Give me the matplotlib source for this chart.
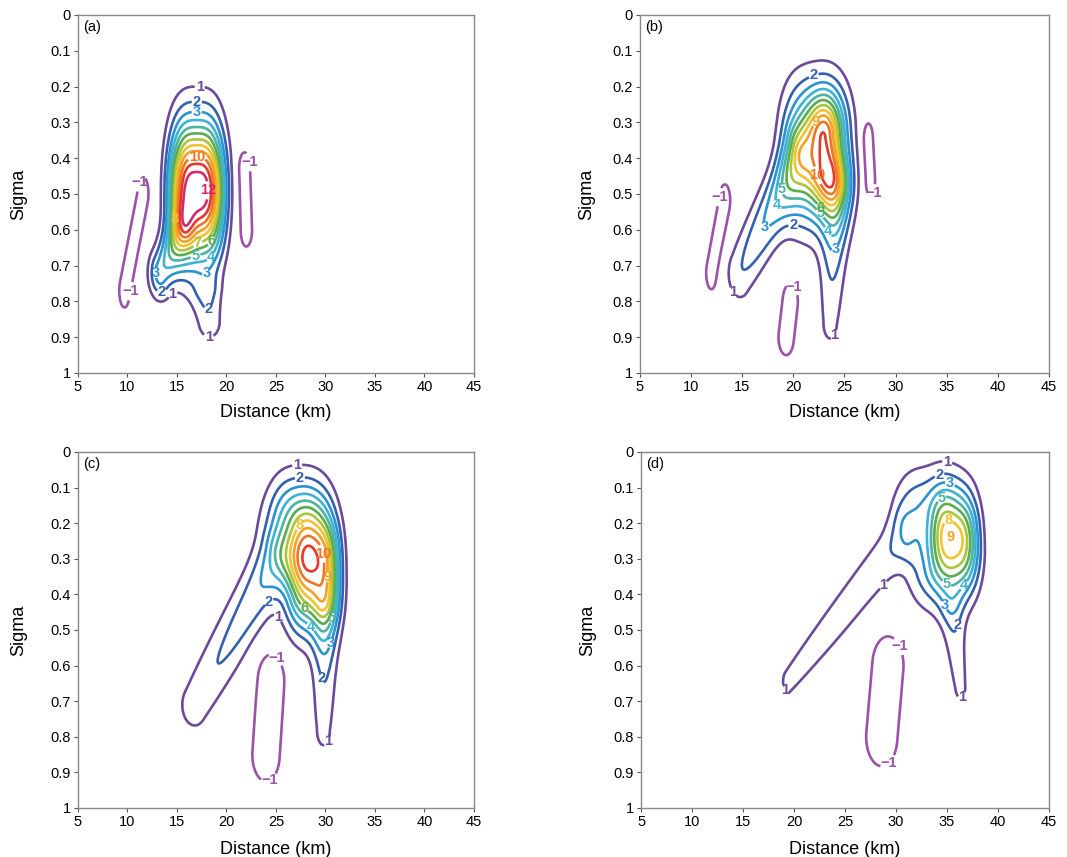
import numpy as np
import matplotlib
matplotlib.use("Agg")
import matplotlib.pyplot as plt

plt.rcParams['font.family'] = ['Liberation Sans', 'DejaVu Sans']

# contour levels and the colour of each level
levels = [-1, 1, 2, 3, 4, 5, 6, 7, 8, 9, 10, 11, 12]
level_colors = ['#9b52a8', '#6b4a9c', '#3560ad', '#2b93d2', '#3fb2d6', '#4cb4a2',
                '#5aac4c', '#a9c63c', '#f2c230', '#f4a126', '#ef7623', '#e6392b', '#d42a6c']

# each field is a sum of segments:
# (x1, s1, x2, s2, width_km, width_sigma, amp_start, amp_end, x_exponent)
field_a = [
    (17.0, 0.49, 17.0, 0.49, 2.1, 0.128, 13.0, 13.0, 3),
    (15.5, 0.60, 13.3, 0.72, 0.8, 0.05, 3.5, 3.5, 2),
    (18.0, 0.78, 18.3, 0.86, 1.0, 0.04, 1.7, 1.5, 2),
    (11.6, 0.50, 9.7, 0.77, 0.45, 0.04, -2.0, -2.0, 2),
    (21.8, 0.43, 22.0, 0.60, 0.5, 0.04, -2.0, -2.0, 2),
]
field_b = [
    (23.0, 0.34, 23.2, 0.42, 1.2, 0.08, 6.5, 6.5, 2),
    (22.2, 0.33, 22.4, 0.45, 2.6, 0.11, 4.5, 4.5, 3),
    (20.5, 0.40, 14.8, 0.72, 1.0, 0.06, 4.5, 1.9, 2),
    (24.2, 0.50, 23.6, 0.86, 0.9, 0.06, 3.0, 1.3, 2),
    (13.3, 0.52, 12.0, 0.72, 0.45, 0.04, -2.0, -2.0, 2),
    (19.7, 0.80, 19.3, 0.90, 0.6, 0.04, -2.2, -2.2, 2),
    (27.3, 0.35, 27.5, 0.46, 0.4, 0.04, -2.2, -2.2, 2),
]
field_c = [
    (29.0, 0.30, 29.0, 0.30, 1.9, 0.10, 7.2, 7.2, 3),
    (27.5, 0.20, 28.5, 0.40, 2.2, 0.09, 3.5, 3.5, 3),
    (25.5, 0.18, 26.5, 0.28, 2.0, 0.08, 1.3, 1.3, 2),
    (25.0, 0.30, 16.8, 0.71, 1.3, 0.06, 3.0, 1.6, 2),
    (30.0, 0.45, 29.8, 0.78, 0.9, 0.06, 2.8, 1.3, 2),
    (24.5, 0.64, 24.0, 0.85, 1.1, 0.06, -2.2, -2.2, 2),
]
field_d = [
    (35.8, 0.24, 35.8, 0.24, 1.8, 0.09, 6.3, 6.3, 3),
    (33.3, 0.17, 34.5, 0.32, 2.6, 0.085, 3.0, 3.0, 3),
    (30.5, 0.24, 19.4, 0.645, 0.9, 0.06, 1.8, 1.15, 2),
    (35.5, 0.45, 36.3, 0.66, 0.8, 0.05, 1.8, 1.2, 2),
    (29.2, 0.60, 28.6, 0.80, 1.3, 0.07, -2.0, -2.0, 2),
]
fields = [field_a, field_b, field_c, field_d]
panel_labels = ['(a)', '(b)', '(c)', '(d)']

# where the contour labels sit: level -> points (km, sigma)
labels_a = {1: [(17.3, 0.2), (15, 0.8), (18, 0.93)], 2: [(17, 0.255), (13.5, 0.78), (18.5, 0.84)],
            3: [(17, 0.29), (13.5, 0.72), (19, 0.75)], 4: [(19, 0.69)], 5: [(16.6, 0.65)],
            6: [(17.9, 0.62)], 7: [(16.4, 0.6)], 8: [(14.8, 0.57)], 10: [(17, 0.4)], 12: [(17.3, 0.49)],
            -1: [(11.5, 0.47), (10, 0.77), (22.5, 0.41)]}
labels_b = {1: [(13.8, 0.78), (24.5, 0.9)], 2: [(22, 0.17), (20, 0.57)],
            3: [(15.5, 0.64), (24.5, 0.66)], 4: [(16.7, 0.57), (23.6, 0.6)],
            5: [(18, 0.49), (22.4, 0.56)], 6: [(23.4, 0.52)], 9: [(22.3, 0.3)], 10: [(23.2, 0.44)],
            -1: [(13, 0.51), (20, 0.76), (28, 0.5)]}
labels_c = {1: [(27.2, 0.06), (25, 0.47), (30, 0.81)], 2: [(27.5, 0.11), (24, 0.41), (29, 0.64)],
            3: [(29.9, 0.53)], 4: [(28.6, 0.49)], 5: [(29.9, 0.46)], 6: [(28.4, 0.42)],
            8: [(28, 0.22)], 9: [(29, 0.35)], 10: [(29, 0.29)],
            -1: [(25, 0.58), (24.5, 0.93)]}
labels_d = {1: [(35, 0.03), (29, 0.38), (19, 0.67), (37, 0.7)], 2: [(34.2, 0.06), (36.4, 0.49)],
            3: [(35.4, 0.08), (35.4, 0.42)], 4: [(36.9, 0.38)], 5: [(34.2, 0.12), (35.4, 0.35)],
            8: [(35, 0.16)], 9: [(35.8, 0.22)],
            -1: [(30, 0.55), (29.5, 0.88)]}
label_sets = [labels_a, labels_b, labels_c, labels_d]

x = np.linspace(5, 45, 401)
s = np.linspace(0, 1, 301)
X, S = np.meshgrid(x, s)


def segment(x1, s1, x2, s2, wx, ws, a1, a2, q):
    u, v = X / wx, S / ws
    u1, v1 = x1 / wx, s1 / ws
    du, dv = x2 / wx - u1, s2 / ws - v1
    L2 = du * du + dv * dv
    t = np.clip(((u - u1) * du + (v - v1) * dv) / L2, 0, 1) if L2 > 0 else 0.0
    ex = np.abs(u - (u1 + t * du))
    ey = v - (v1 + t * dv)
    return (a1 + (a2 - a1) * t) * np.exp(-0.5 * (ex ** q + ey ** 2))


def fmt(v):
    return f'{v:.0f}'.replace('-', '\u2212')


fig = plt.figure(figsize=(10.67, 8.57), dpi=100)
positions = [[0.0731, 0.5648, 0.371, 0.4177], [0.5998, 0.5648, 0.3833, 0.4177],
             [0.0731, 0.0572, 0.371, 0.4154], [0.6008, 0.0572, 0.3824, 0.4154]]
ylabel_pads = [17, 12.5, 17, 12.5]
xlabel_pads = [7, 7, 9, 9]

for i, (pos, comps, lab, lbls) in enumerate(zip(positions, fields, panel_labels, label_sets)):
    ax = fig.add_axes(pos)
    Z = np.zeros_like(X)
    for c in comps:
        Z += segment(*c)
    for lev, col in zip(levels, level_colors):
        if not (Z.min() < lev < Z.max()):
            continue
        cs = ax.contour(X, S, Z, levels=[lev], colors=[col], linewidths=1.9,
                        linestyles='solid')
        if lev in lbls:
            ax.clabel(cs, manual=lbls[lev], inline=True, fmt=fmt,
                      fontsize=10.5, inline_spacing=1)
            for t in cs.labelTexts:
                t.set_fontweight('bold')
                t.set_rotation(0)
    ax.set_xlim(5, 45)
    ax.set_ylim(1, 0)
    ax.set_xticks(np.arange(5, 46, 5))
    ax.set_yticks(np.arange(0, 1.01, 0.1))
    ax.set_yticklabels(['0'] + [f'{v:.1f}' for v in np.arange(0.1, 0.95, 0.1)] + ['1'])
    ax.tick_params(labelsize=10.5, length=3, width=0.8, color='#555555', pad=2)
    for sp in ax.spines.values():
        sp.set_color('#888888')
        sp.set_linewidth(1.0)
    ax.set_xlabel('Distance (km)', fontsize=13, labelpad=xlabel_pads[i])
    ax.set_ylabel('Sigma', fontsize=13, labelpad=ylabel_pads[i])
    ax.text(0.012, 0.985, lab, transform=ax.transAxes, fontsize=10.5, va='top', ha='left')

fig.savefig('out.png', dpi=100)
